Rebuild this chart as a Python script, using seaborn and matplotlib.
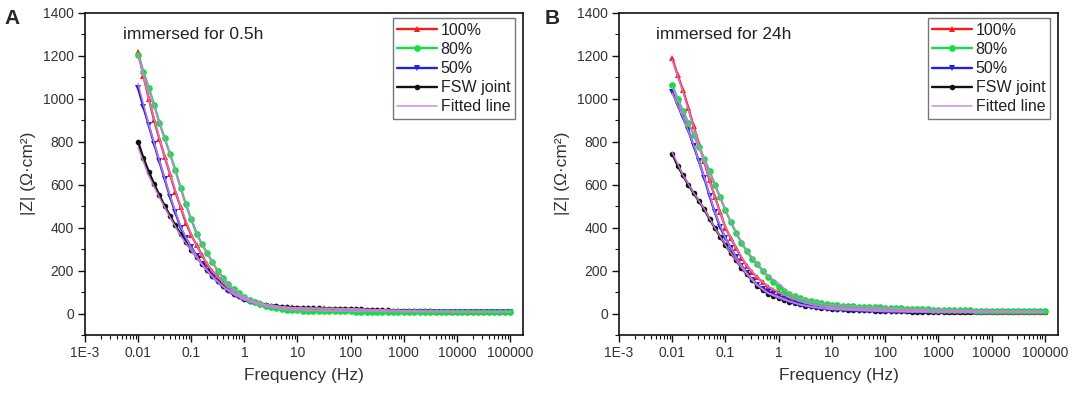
import numpy as np
import matplotlib
matplotlib.use('Agg')
import matplotlib.pyplot as plt
import seaborn as sns
from matplotlib.ticker import LogLocator, MultipleLocator, NullFormatter

# ---------------- data ----------------
FREQ = np.logspace(-2, 5, 71)  # measurement grid, 10 points per decade
FIT_FREQ = [0.01, 0.0158, 0.0251, 0.0398, 0.0631, 0.1, 0.158, 0.251, 0.398, 0.631,
            1, 1.58, 2.51, 3.98, 6.31, 10, 100, 1000, 10000, 100000]

SERIES = ['100%', '80%', '50%', 'FSW joint']
FIT_LABEL = 'Fitted line'

A_red = [1218, 1105, 1000, 900, 812, 730, 648, 567, 495, 422, 365, 318, 272, 229, 196, 168, 143, 116, 98, 84,
         72, 62, 54, 47, 41, 37, 34, 31, 29, 28, 27,
         26, 25, 25, 24, 24, 23, 23, 22, 22, 21,
         20, 19, 18, 17, 16, 15, 14, 13, 12, 12,
         11, 11, 10, 10, 10, 9, 9, 9, 9, 9,
         8, 8, 8, 8, 8, 8, 8, 8, 8, 8]
A_green = [1202, 1125, 1050, 972, 888, 815, 742, 668, 585, 507, 438, 372, 323, 280, 238, 198, 165, 136, 112, 94,
           78, 64, 52, 43, 36, 30, 25, 21, 18, 16, 14,
           13, 12, 12, 11, 11, 10, 10, 10, 10, 10,
           9, 9, 9, 9, 9, 9, 9, 9, 9, 9,
           9, 9, 8, 8, 8, 8, 8, 8, 8, 8,
           8, 8, 8, 8, 8, 8, 8, 8, 8, 8]
A_blue = [1048, 960, 875, 790, 707, 625, 543, 470, 400, 350, 308, 268, 231, 200, 172, 147, 124, 104, 88, 75,
          64, 55, 47, 40, 34, 29, 25, 22, 19, 17, 16,
          15, 14, 13, 13, 12, 12, 11, 11, 11, 10,
          10, 10, 9, 9, 9, 9, 9, 8, 8, 8,
          8, 8, 8, 8, 7, 7, 7, 7, 7, 7,
          7, 7, 7, 7, 7, 7, 7, 7, 7, 7]
A_black = [798, 722, 660, 603, 550, 500, 455, 410, 370, 332, 296, 263, 232, 203, 176, 150, 128, 109, 93, 80,
           69, 60, 52, 46, 41, 37, 34, 31, 29, 27, 26,
           25, 25, 24, 24, 23, 23, 22, 22, 21, 21,
           20, 19, 18, 17, 16, 15, 14, 13, 12, 12,
           11, 11, 10, 10, 10, 9, 9, 9, 9, 9,
           8, 8, 8, 8, 8, 8, 8, 8, 8, 8]

A_fit_red = [1210, 1000, 815, 650, 497, 367, 270, 195, 142, 98, 72, 54, 41, 33, 28, 26, 22, 12, 9, 8]
A_fit_green = [1195, 1048, 890, 740, 585, 440, 322, 238, 165, 112, 78, 52, 36, 25, 18, 14, 10, 9, 8, 8]
A_fit_blue = [1070, 880, 712, 548, 405, 305, 232, 170, 124, 88, 64, 47, 34, 25, 19, 16, 11, 9, 8, 7]
A_fit_black = [770, 640, 540, 448, 362, 292, 228, 172, 126, 92, 68, 52, 41, 34, 29, 26, 21, 12, 9, 8]

B_red = [1187, 1110, 1040, 958, 873, 790, 707, 620, 543, 470, 400, 350, 305, 260, 222, 192, 168, 145, 125, 110,
         98, 85, 74, 64, 56, 49, 43, 38, 34, 31, 28,
         26, 25, 24, 23, 22, 21, 20, 19, 18, 17,
         16, 15, 14, 13, 12, 12, 11, 11, 10, 10,
         10, 9, 9, 9, 9, 8, 8, 8, 8, 8,
         8, 8, 8, 7, 7, 7, 7, 7, 7, 7]
B_green = [1062, 1000, 942, 888, 832, 775, 720, 662, 600, 540, 480, 425, 375, 330, 290, 255, 228, 200, 172, 148,
           125, 106, 92, 80, 70, 63, 57, 52, 47, 43, 40,
           38, 36, 35, 33, 32, 31, 30, 29, 28, 27,
           26, 25, 24, 23, 22, 21, 20, 19, 18, 17,
           16, 16, 15, 15, 14, 14, 13, 13, 13, 12,
           12, 12, 12, 11, 11, 11, 11, 11, 11, 11]
B_blue = [1031, 970, 912, 853, 780, 710, 632, 547, 470, 402, 350, 305, 262, 222, 188, 158, 133, 115, 101, 89,
          79, 68, 58, 49, 41, 35, 31, 27, 24, 21, 19,
          17, 16, 15, 14, 13, 12, 11, 10, 10, 9,
          9, 8, 8, 8, 7, 7, 7, 7, 6, 6,
          6, 6, 6, 6, 6, 6, 6, 6, 6, 6,
          6, 6, 6, 6, 6, 6, 6, 6, 6, 6]
B_black = [744, 688, 643, 600, 560, 523, 485, 440, 398, 357, 318, 282, 247, 213, 182, 155, 130, 108, 93, 82,
           72, 63, 55, 48, 42, 37, 33, 29, 26, 24, 22,
           20, 19, 18, 17, 16, 15, 14, 13, 12, 12,
           11, 11, 10, 10, 9, 9, 9, 8, 8, 8,
           8, 7, 7, 7, 7, 7, 7, 7, 7, 7,
           7, 7, 7, 7, 7, 7, 7, 7, 7, 7]

B_fit_red = [1180, 1035, 870, 705, 540, 400, 305, 222, 168, 125, 98, 74, 56, 43, 34, 28, 17, 10, 8, 7]
B_fit_green = [1055, 945, 835, 720, 600, 480, 378, 292, 230, 175, 140, 95, 70, 57, 47, 40, 27, 17, 13, 11]
B_fit_blue = [1025, 915, 785, 635, 470, 350, 262, 188, 133, 95, 78, 58, 41, 31, 24, 19, 9, 6, 6, 6]
B_fit_black = [750, 645, 562, 487, 398, 318, 247, 182, 130, 93, 72, 55, 42, 33, 26, 22, 12, 8, 7, 7]

TITLES = ['immersed for 0.5h', 'immersed for 24h']
PANEL_LETTERS = ['A', 'B']
XTICKS = [1e-3, 1e-2, 1e-1, 1, 10, 100, 1000, 10000, 100000]
XTICK_LABELS = ['1E-3', '0.01', '0.1', '1', '10', '100', '1000', '10000', '100000']
YTICKS = [0, 200, 400, 600, 800, 1000, 1200, 1400]

# ---------------- style ----------------
sns.set_style('ticks')
plt.rcParams['font.family'] = ['Liberation Sans', 'DejaVu Sans']

COLORS = ['#ff1a1a', '#10e040', '#2222dd', '#111111']
MARKERS = ['^', 'o', 'v', 'o']
MSIZES = [4.3, 4.8, 4.3, 4.0]
ZORDERS = [3.0, 3.6, 3.3, 3.2]
FIT_COLOR = '#cc80dd'

fig = plt.figure(figsize=(10.79, 3.96), dpi=100)
W, H = 1079, 396
ax_a = fig.add_axes([85 / W, 61 / H, 438 / W, 322.5 / H])
ax_b = fig.add_axes([619 / W, 61 / H, 439 / W, 322.5 / H])


def draw(ax, data, fits, title, title_x):
    for name, vals, c, mk, ms, z in zip(SERIES, data, COLORS, MARKERS, MSIZES, ZORDERS):
        sns.lineplot(x=FREQ, y=vals, ax=ax, color=c, marker=mk, markersize=ms, zorder=z,
                     markeredgewidth=0, linewidth=1.7, label=name, estimator=None, sort=False)
    for i, fv in enumerate(fits):
        sns.lineplot(x=FIT_FREQ, y=fv, ax=ax, color=FIT_COLOR, linewidth=1.1, alpha=0.9, zorder=3.8,
                     label=FIT_LABEL if i == 0 else '_nolegend_', estimator=None, sort=False)
    ax.set_xscale('log')
    ax.set_xlim(1e-3, 1.76e5)
    ax.set_ylim(-100, 1400)
    ax.set_xticks(XTICKS)
    ax.set_xticklabels(XTICK_LABELS)
    ax.xaxis.set_minor_locator(LogLocator(base=10, subs=range(2, 10), numticks=100))
    ax.xaxis.set_minor_formatter(NullFormatter())
    ax.set_yticks(YTICKS)
    ax.yaxis.set_minor_locator(MultipleLocator(100))
    ax.tick_params(axis='both', which='major', direction='out', length=5, width=1,
                   labelsize=10, colors='#111111', labelcolor='#333333', pad=3)
    ax.tick_params(axis='both', which='minor', direction='out', length=3, width=0.8, colors='#111111')
    for sp in ax.spines.values():
        sp.set_visible(True)
        sp.set_linewidth(1.2)
        sp.set_color('#111111')
    ax.set_xlabel('Frequency (Hz)', fontsize=12.5, color='#333333', labelpad=6)
    ax.set_ylabel('|Z| (\u03a9\u00b7cm\u00b2)', fontsize=12.5, color='#333333', labelpad=5)
    ax.text(title_x, 0.955, title, transform=ax.transAxes,
            ha='left', va='top', fontsize=12.5, color='#222222')
    h, l = ax.get_legend_handles_labels()
    leg = ax.legend(h, l, loc='upper right', bbox_to_anchor=(1 - 8 / 438, 1 - 5.5 / 322.5),
                    borderaxespad=0, fontsize=11.5, frameon=True, fancybox=False,
                    edgecolor='#777777', framealpha=1, handlelength=2.5, handletextpad=0.2,
                    labelspacing=0.26, borderpad=0.3)
    leg.get_frame().set_linewidth(1.0)
    for t in leg.get_texts():
        t.set_color('#222222')


draw(ax_a, [A_red, A_green, A_blue, A_black], [A_fit_red, A_fit_green, A_fit_blue, A_fit_black],
     TITLES[0], 38 / 438)
draw(ax_b, [B_red, B_green, B_blue, B_black], [B_fit_red, B_fit_green, B_fit_blue, B_fit_black],
     TITLES[1], 37 / 439)

fig.text(4 / W, 1 - 9 / H, PANEL_LETTERS[0], fontsize=15, fontweight='bold', ha='left', va='top')
fig.text(545 / W, 1 - 9 / H, PANEL_LETTERS[1], fontsize=15, fontweight='bold', ha='left', va='top')

fig.savefig('out.png', dpi=100)
